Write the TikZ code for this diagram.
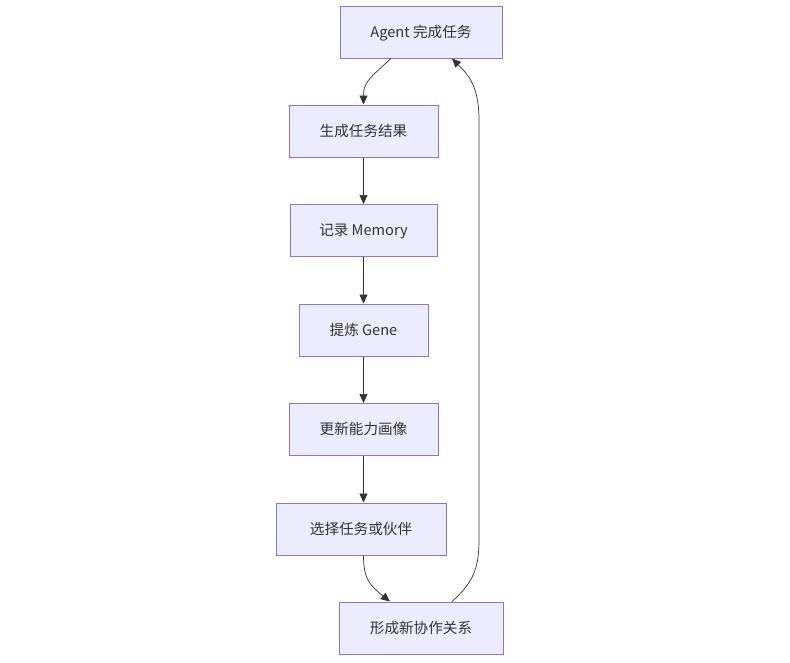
\documentclass[tikz,border=0pt]{standalone}
\usepackage{fontspec}
\setmainfont{Noto Sans CJK SC}
\usetikzlibrary{arrows.meta}
\usepackage{xcolor}
\definecolor{myfill}{HTML}{ECECFF}
\definecolor{myedge}{HTML}{9370DB}
\definecolor{mytext}{HTML}{333333}
\tikzset{
  >=latex,
  step box/.style={draw=myedge,fill=myfill,text=mytext,line width=1pt,minimum height=52,inner sep=0,
    text depth=2,font=\fontsize{14.6}{16}\selectfont},
  connect arrow/.style={-{Triangle[length=9,width=8]},mytext,line width=0.7pt}
}
\begin{document}
\begin{tikzpicture}[x=1pt,y=-1pt]
    \useasboundingbox (0,0) rectangle (790,662);
    \node[step box,minimum width=162] (agent) at (421,32) {Agent 完成任务};
    \node[step box,minimum width=149] (result) at (363.5,131) {生成任务结果};
    \node[step box,minimum width=147] (memory) at (363.5,230.5) {记录 Memory};
    \node[step box,minimum width=129] (gene) at (363.5,330) {提炼 Gene};
    \node[step box,minimum width=149] (profile) at (363.5,429.5) {更新能力画像};
    \node[step box,minimum width=170] (choose) at (361,529) {选择任务或伙伴};
    \node[step box,minimum width=164] (collab) at (421,628) {形成新协作关系};

    \draw[connect arrow] ([xshift=-30]agent.south) .. controls +(-22,20) and +(0,-22) .. (result.north);
    \draw[connect arrow] (result) -- (memory);
    \draw[connect arrow] (memory) -- (gene);
    \draw[connect arrow] (gene) -- (profile);
    \draw[connect arrow] (profile.south) -- (profile.south |- choose.north);
    \draw[connect arrow] (choose.south -| profile.south) .. controls +(0,24) and +(-20,-16) .. ([xshift=-31]collab.north);
    % loop back
    \draw[connect arrow] ([xshift=31]collab.north) .. controls +(20,-18) and +(0,30) .. (479,540)
      -- (479,120) .. controls +(0,-34) and +(16,16) .. ([xshift=31]agent.south);
\end{tikzpicture}
\end{document}
